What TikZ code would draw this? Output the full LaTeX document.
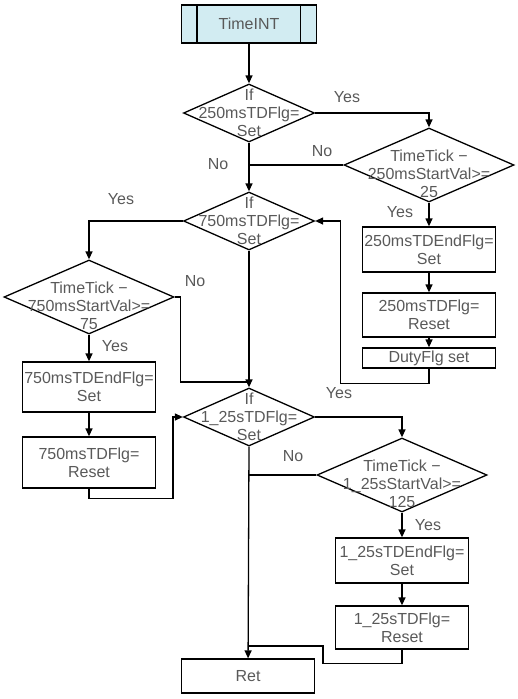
\documentclass[tikz,border=0pt]{standalone}
\usepackage{fontspec}
\setmainfont{Liberation Sans}
\usetikzlibrary{shapes.geometric,arrows.meta}
\definecolor{startfill}{RGB}{210,236,242}

\begin{document}
\begin{tikzpicture}[x=1pt,y=-1pt,line width=1.3pt,
  >={Triangle[length=8pt,width=7pt]},
  txt/.style={font=\fontsize{16}{18}\selectfont,text=black!65,align=center},
  ifbox/.style={diamond,draw,inner sep=0pt,minimum width=131pt,minimum height=58pt,
                label={[txt]center:#1}},
  tickbox/.style={diamond,draw,inner sep=0pt,minimum width=170pt,minimum height=74pt,
                  label={[txt,yshift=-9pt]center:#1}},
  proc/.style={rectangle,draw,txt,inner sep=0pt,minimum width=133pt,minimum height=#1}]
\useasboundingbox (0,0) rectangle (518,699);

\node[draw,fill=startfill,txt,inner sep=0pt,minimum width=135pt,minimum height=38pt] (start) at (249,24) {TimeINT};
\draw ([xshift=16pt]start.north west) -- ([xshift=16pt]start.south west);
\draw ([xshift=-17pt]start.north east) -- ([xshift=-17pt]start.south east);

\node[ifbox={If\\250msTDFlg=\\Set}] (d1) at (249,113) {};
\node[tickbox={TimeTick −\\250msStartVal>=\\25}] (d2) at (429,165) {};
\node[ifbox={If\\750msTDFlg=\\Set}] (d3) at (249,221) {};
\node[tickbox={TimeTick −\\750msStartVal>=\\75}] (d4) at (89,297) {};
\node[ifbox={If\\1\_25sTDFlg=\\Set}] (d5) at (249,417) {};
\node[tickbox={TimeTick −\\1\_25sStartVal>=\\125}] (d6) at (402,475) {};

\node[proc=45pt] (b250a) at (429,249.5) {250msTDEndFlg=\\Set};
\node[proc=44pt] (b250b) at (429,315) {250msTDFlg=\\Reset};
\node[proc=20pt] (duty) at (429,358) {DutyFlg set};
\node[proc=50pt] (b750a) at (89,387) {750msTDEndFlg=\\Set};
\node[proc=51pt] (b750b) at (89,462.5) {750msTDFlg=\\Reset};
\node[proc=45pt] (b125a) at (402,560.5) {1\_25sTDEndFlg=\\Set};
\node[proc=43pt] (b125b) at (402,627.5) {1\_25sTDFlg=\\Reset};
\node[proc=34pt] (ret) at (248,676) {Ret};

\coordinate (j1) at (d1.south |- d2.west);
\coordinate (j2) at (249,382);
\coordinate (j3) at (d5.south |- d6.west);
\coordinate (j4) at (249,646);

\draw[->] (start) -- (d1.north);
\draw[->] (d1.east) -| (d2.north);
\draw (d2.west) -- (j1);
\draw[->] (d1.south) -- (d3.north);
\draw[->] (d2.south) -- (b250a);
\draw[->] (b250a) -- (b250b);
\draw[->] (b250b) -- (duty);
\draw[->] (duty.south) -- ++(0,15) -| ([xshift=25pt]d3.east) -- (d3.east);
\draw[->] (d3.west) -| (d4.north);
\draw (d4.east) -- ++(6,0) |- (j2);
\draw[->] (d3.south) -- (d5.north);
\draw[->] (d4.south) -- (b750a);
\draw[->] (b750a) -- (b750b);
\draw[->] (b750b.south) -- ++(0,10) -| ([xshift=-10pt]d5.west) -- (d5.west);
\draw[->] (d5.east) -| (d6.north);
\draw (d6.west) -- (j3);
\draw[->] (d5.south) -- (ret);
\draw[->] (d6.south) -- (b125a);
\draw[->] (b125a) -- (b125b);
\draw (b125b.south) -- ++(0,14) -| ([xshift=74pt]j4) -- (j4);

\node[txt] (y1) at (347,97) {Yes};
\node[txt] (n1) at (322,151) {No};
\node[txt] (n2) at (218,164) {No};
\node[txt] (y2) at (400,212) {Yes};
\node[txt] (y3) at (121,199) {Yes};
\node[txt] (n3) at (195,281) {No};
\node[txt] (y4) at (115,346) {Yes};
\node[txt] (y5) at (339,393) {Yes};
\node[txt] (n4) at (293,456) {No};
\node[txt] (y6) at (428,525) {Yes};
\end{tikzpicture}
\end{document}
